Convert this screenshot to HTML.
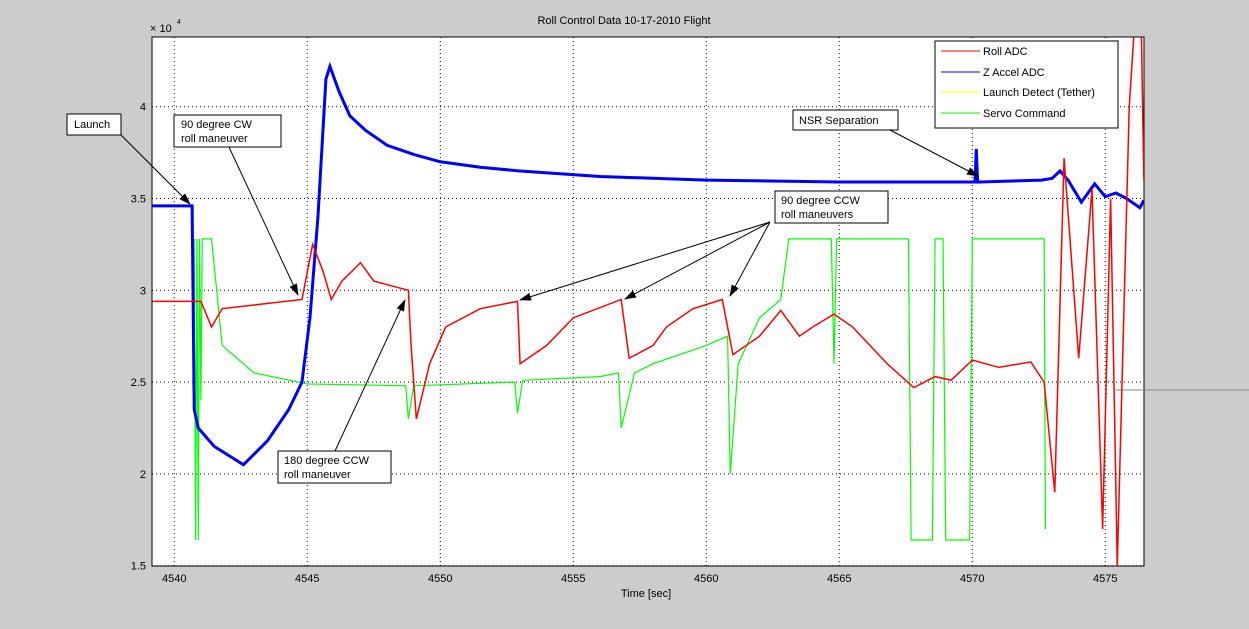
<!DOCTYPE html>
<html><head><meta charset="utf-8"><style>
body{margin:0;background:#cccccc;}
svg{display:block;font-family:"Liberation Sans",sans-serif;}
</style></head><body>
<svg id="chart" width="1249" height="629">
<defs><marker id="ah" markerWidth="12" markerHeight="8" refX="11" refY="4" orient="auto"><path d="M0,0 L12,4 L0,8 z" fill="#000"/></marker>
<clipPath id="pc"><rect x="152" y="37" width="992" height="529"/></clipPath></defs>
<rect x="152" y="37" width="992" height="529" fill="#fff" stroke="#000"/>
<line x1="1116" x2="1249" y1="390" y2="390" stroke="#888"/>
<g id="grid"></g><g id="ticks"></g><g id="series" clip-path="url(#pc)"></g>
<text x="624" y="24" font-size="11" text-anchor="middle">Roll Control Data 10-17-2010 Flight</text>
<text x="646" y="597" font-size="11" text-anchor="middle">Time [sec]</text>
<text x="150" y="32" font-size="11">× 10</text>
<text x="177" y="24" font-size="7">4</text>
<g font-size="11" id="annots">
<rect x="67" y="114" width="54" height="21" fill="#fff" stroke="#000"/>
<text x="74" y="128">Launch</text>
<line x1="121" y1="135" x2="190" y2="204" stroke="#000" marker-end="url(#ah)"/>
<rect x="174" y="115" width="107" height="32" fill="#fff" stroke="#000"/>
<text x="181" y="128">90 degree CW</text><text x="181" y="142">roll maneuver</text>
<line x1="229" y1="147" x2="298" y2="295" stroke="#000" marker-end="url(#ah)"/>
<rect x="278" y="451" width="113" height="32" fill="#fff" stroke="#000"/>
<text x="284" y="464">180 degree CCW</text><text x="284" y="478">roll maneuver</text>
<line x1="335" y1="451" x2="405" y2="300" stroke="#000" marker-end="url(#ah)"/>
<rect x="775" y="191" width="113" height="32" fill="#fff" stroke="#000"/>
<text x="781" y="204">90 degree CCW</text><text x="781" y="218">roll maneuvers</text>
<line x1="770" y1="222" x2="520" y2="300" stroke="#000" marker-end="url(#ah)"/>
<line x1="770" y1="222" x2="625" y2="299" stroke="#000" marker-end="url(#ah)"/>
<line x1="770" y1="222" x2="730" y2="296" stroke="#000" marker-end="url(#ah)"/>
<rect x="793" y="110" width="105" height="20" fill="#fff" stroke="#000"/>
<text x="799" y="124">NSR Separation</text>
<line x1="890" y1="130" x2="978" y2="176" stroke="#000" marker-end="url(#ah)"/>
</g>
<g>
<rect x="935" y="41" width="183" height="87" fill="#fff" stroke="#000"/>
<line x1="941" y1="51" x2="980" y2="51" stroke="#f00"/><text x="983" y="55" font-size="11">Roll ADC</text>
<line x1="941" y1="72" x2="980" y2="72" stroke="#00f"/><text x="983" y="76" font-size="11">Z Accel ADC</text>
<line x1="941" y1="92" x2="980" y2="92" stroke="#ff0"/><text x="983" y="96" font-size="11">Launch Detect (Tether)</text>
<line x1="941" y1="113" x2="980" y2="113" stroke="#0f0"/><text x="983" y="117" font-size="11">Servo Command</text>
</g>
</svg>
<script>
const xTicks=[4540,4545,4550,4555,4560,4565,4570,4575];
const yTicks=[15000,20000,25000,30000,35000,40000];
const yTickLabels=["1.5","2","2.5","3","3.5","4"];
const blueT=[4539.18,4540.67,4540.75,4540.9,4541.5,4542.6,4543.5,4544.3,4544.8,4545.1,4545.4,4545.7,4545.85,4546.2,4546.6,4547.2,4548,4549,4550,4551.5,4553,4556,4560,4565,4570.1,4570.15,4570.2,4570.3,4572.6,4573.0,4573.3,4573.6,4574.1,4574.6,4575.0,4575.4,4575.8,4576.3,4576.45];
const blueV=[34600,34600,23500,22500,21500,20500,21800,23500,25000,28500,34000,41500,42200,40800,39500,38700,37900,37400,37000,36700,36500,36200,36000,35900,35900,37700,35900,35900,36000,36100,36500,36000,34800,35800,35100,35300,35000,34500,34900];
const redT=[4539.18,4541.0,4541.4,4541.8,4543,4544.8,4545.2,4545.6,4545.9,4546.3,4547,4547.5,4548.8,4548.9,4549.1,4549.6,4550.2,4551.5,4552.9,4553.0,4554,4555,4556.8,4557.1,4558,4558.5,4559.5,4560.6,4561,4562,4562.8,4563.5,4564,4564.8,4565.5,4566.8,4567.8,4568.6,4569.2,4570,4571,4572.2,4572.7,4573.1,4573.45,4574.0,4574.5,4574.9,4575.2,4575.45,4575.9,4576.1,4576.35,4576.45];
const redV=[29400,29400,28000,29000,29200,29500,32500,31000,29500,30500,31500,30500,30000,27000,23000,26000,28000,29000,29400,26000,27000,28500,29500,26300,27000,28000,29000,29500,26500,27500,28900,27500,28000,28700,28000,26000,24700,25300,25100,26200,25800,26100,25000,19000,37200,26300,35500,17000,35000,15000,40000,44500,44500,36000];
const greenT=[4540.7,4540.75,4540.8,4540.85,4540.9,4540.95,4541.0,4541.05,4541.1,4541.4,4541.8,4543,4545,4548.7,4548.8,4549,4552.8,4552.9,4553.1,4556,4556.7,4556.8,4557.3,4558,4559,4560,4560.8,4560.9,4561.2,4562,4562.8,4563.1,4564.7,4564.8,4564.9,4567.6,4567.7,4568.5,4568.6,4568.9,4569,4569.9,4570,4572.7,4572.75];
const greenV=[24600,32800,16400,32800,16400,32800,24000,32800,32800,32800,27000,25500,24900,24800,23000,24800,25000,23300,25100,25300,25500,22500,25500,26000,26500,27000,27500,20000,26000,28500,29500,32800,32800,26000,32800,32800,16400,16400,32800,32800,16400,16400,32800,32800,17000];
const x=t=>174.3+(t-4540)*26.6;
const y=v=>565.7-(v-15000)*0.01836;
const ns='http://www.w3.org/2000/svg';
function mk(tag,parent,attrs){const e=document.createElementNS(ns,tag);for(const k in attrs)e.setAttribute(k,attrs[k]);document.getElementById(parent).appendChild(e);return e;}
xTicks.forEach(t=>{
 const g=mk('line','grid',{x1:x(t),x2:x(t),y1:37,y2:566,stroke:'#000','stroke-dasharray':'1,3'});
 
 
 const l=mk('text','ticks',{x:x(t),y:582,'font-size':11,'text-anchor':'middle'});l.textContent=t;
 
 
});
yTicks.forEach((v,i)=>{
 const g=mk('line','grid',{x1:152,x2:1144,y1:y(v),y2:y(v),stroke:'#000','stroke-dasharray':'1,3'});
 
 
 const l=mk('text','ticks',{x:146,y:y(v)+4,'font-size':11,'text-anchor':'end'});l.textContent=yTickLabels[i];
 
 
});
function line(T,V,color,w,name){
 const p=mk('polyline','series',{points:T.map((t,i)=>x(t)+','+y(V[i])).join(' '),fill:'none',stroke:color,'stroke-width':w});
 
 
}
line(greenT,greenV,'#0f0',1.2,'servo-command-line');
line(blueT,blueV,'#00f',3,'z-accel-line');
line(redT,redV,'#f00',1.5,'roll-adc-line');
</script>
</body></html>
